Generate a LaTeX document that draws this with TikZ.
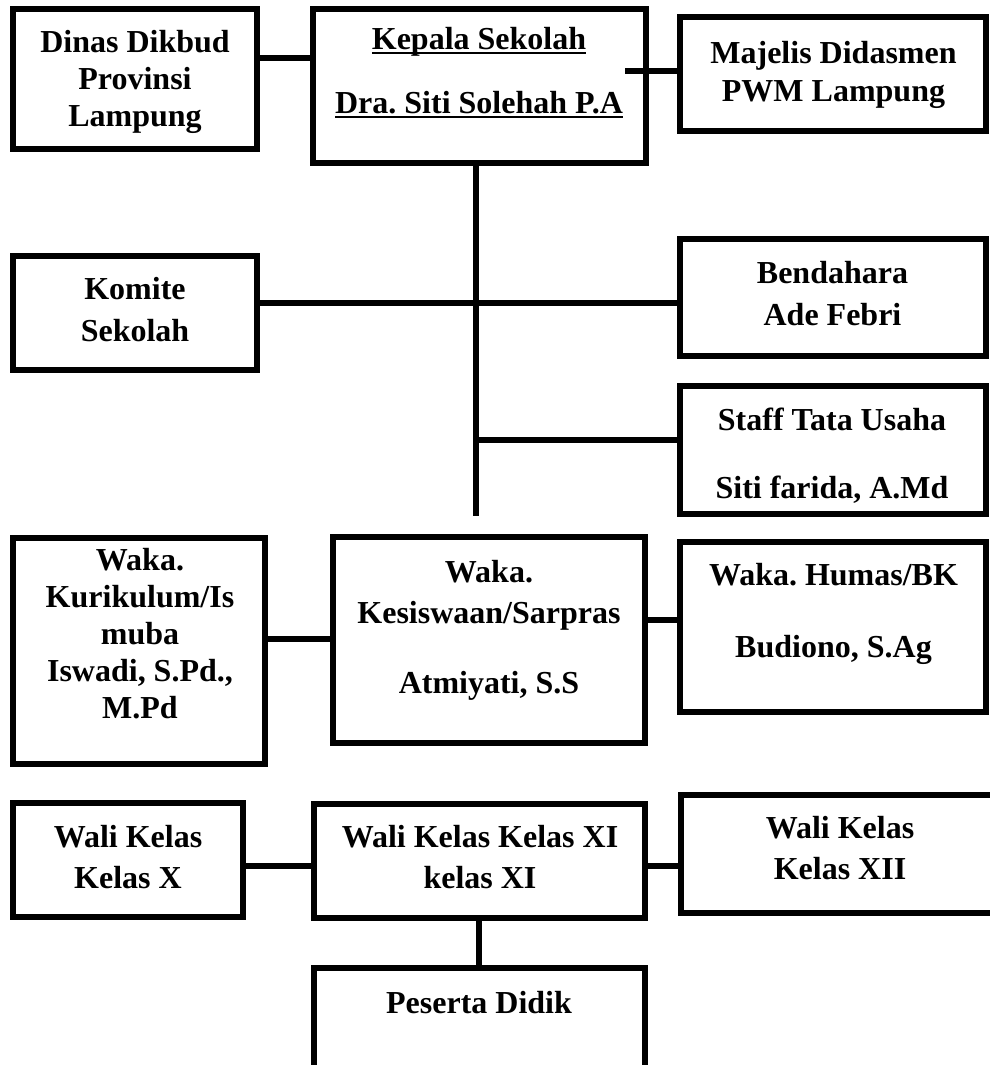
\documentclass[tikz,border=0pt]{standalone}
\usepackage{fontspec}
\setmainfont{Liberation Serif}
\frenchspacing
\newcommand{\myul}[1]{\setbox0\hbox{#1}\rlap{\rule[-5pt]{\wd0}{2pt}}\box0}
\begin{document}
\begin{tikzpicture}[x=1pt,y=-1pt,
  box/.style={draw, line width=6pt, rectangle, inner sep=0pt},
  txt/.style={anchor=base, align=center, inner sep=0pt, font=\fontsize{32}{36.8}\selectfont\bfseries\frenchspacing},
  link/.style={line width=6pt}]
\useasboundingbox (0,0) rectangle (990,1065);
% boxes
\node[box, minimum width=244pt, minimum height=140pt] (dinas) at (135,79) {};
\node[box, minimum width=333pt, minimum height=154pt] (kepala) at (479.5,86) {};
\node[box, minimum width=306pt, minimum height=114pt] (majelis) at (833,74) {};
\node[box, minimum width=244pt, minimum height=114pt] (komite) at (135,313) {};
\node[box, minimum width=306pt, minimum height=117pt] (bendahara) at (833,297) {};
\node[box, minimum width=306pt, minimum height=128pt] (staff) at (833,450) {};
\node[box, minimum width=252pt, minimum height=226pt] (kurikulum) at (139,651) {};
\node[box, minimum width=312pt, minimum height=206pt] (kesiswaan) at (489,640) {};
\node[box, minimum width=306pt, minimum height=170pt] (humas) at (833,626.5) {};
\node[box, minimum width=230pt, minimum height=114pt] (walix) at (128,860) {};
\node[box, minimum width=331pt, minimum height=114pt] (walixi) at (479.5,861) {};
\node[box, minimum width=318pt, minimum height=118pt] (walixii) at (840,854) {};
\node[box, minimum width=331pt, minimum height=120pt] (peserta) at (479.5,1028) {};
% texts (anchor = baseline of the last line)
\node[txt] (t-dinas) at (135,126) {Dinas Dikbud\\Provinsi\\Lampung};
\node[txt] (t-kepala) at (479,113) {\myul{Kepala Sekolah}\\[27.2pt]\myul{Dra. Siti Solehah P.A}};
\node[txt] (t-majelis) at (833.5,101) {Majelis Didasmen\\[1.2pt]PWM Lampung};
\node[txt] (t-komite) at (135,341) {Komite\\[5.2pt]Sekolah};
\node[txt] (t-bendahara) at (832.5,325) {Bendahara\\[5.2pt]Ade Febri};
\node[txt] (t-staff) at (832,498) {Staff Tata Usaha\\[31.2pt]Siti farida, A.Md};
\node[txt] (t-kurikulum) at (140,718) {Waka.\\Kurikulum/Is\\muba\\Iswadi, S.Pd.,\\M.Pd};
\node[txt] (t-kesiswaan) at (489,693) {Waka.\\[4.2pt]Kesiswaan/Sarpras\\[33.2pt]Atmiyati, S.S};
\node[txt] (t-humas) at (833.5,657) {Waka. Humas/BK\\[35.2pt]Budiono, S.Ag};
\node[txt] (t-walix) at (128,888) {Wali Kelas\\[4.2pt]Kelas X};
\node[txt] (t-walixi) at (480,888) {Wali Kelas Kelas XI\\[4.2pt]kelas XI};
\node[txt] (t-walixii) at (840,879) {Wali Kelas\\[4.2pt]Kelas XII};
\node[txt] (t-peserta) at (479,1013) {Peserta Didik};
% helper coordinates
\coordinate (yDK) at (0,58.5);
\coordinate (km) at (625,71);
\coordinate (trunk) at (476,516);
\coordinate (yKB) at (0,303);
\coordinate (yST) at (0,440);
\coordinate (yKK) at (0,638.5);
\coordinate (yKH) at (0,620);
\coordinate (yW) at (0,866);
\coordinate (xP) at (479,0);
% connectors
\draw[link] (dinas.east |- yDK) -- (kepala.west |- yDK);
\draw[link] (km) -- (majelis.west |- km);
\draw[link] (kepala.south -| trunk) -- (trunk);
\draw[link] (komite.east |- yKB) -- (bendahara.west |- yKB);
\draw[link] (trunk |- yST) -- (staff.west |- yST);
\draw[link] (kurikulum.east |- yKK) -- (kesiswaan.west |- yKK);
\draw[link] (kesiswaan.east |- yKH) -- (humas.west |- yKH);
\draw[link] (walix.east |- yW) -- (walixi.west |- yW);
\draw[link] (walixi.east |- yW) -- (walixii.west |- yW);
\draw[link] (walixi.south -| xP) -- (peserta.north -| xP);
\end{tikzpicture}
\end{document}
